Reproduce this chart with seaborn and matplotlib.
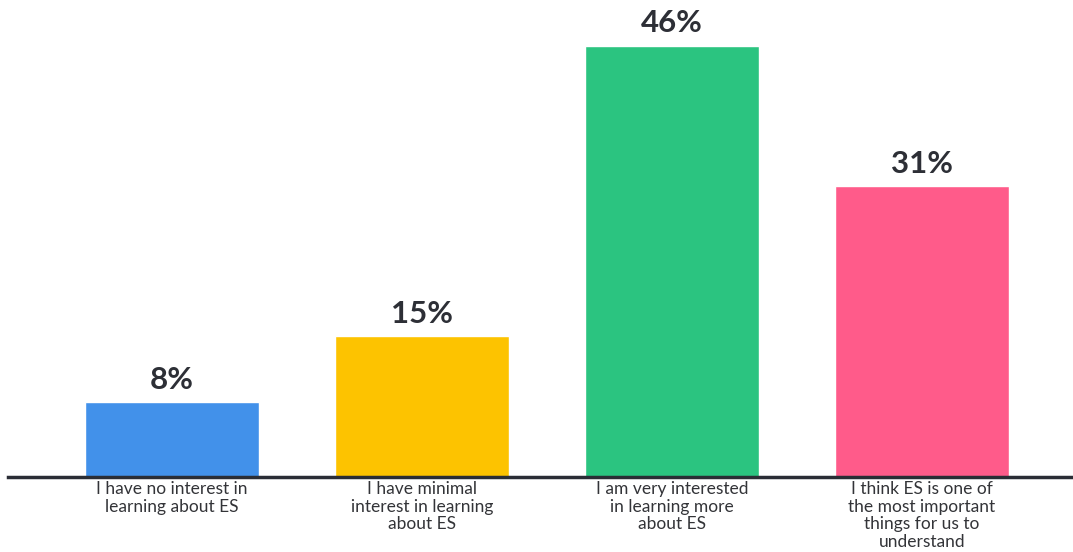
import matplotlib
matplotlib.use("Agg")
import matplotlib.pyplot as plt
import seaborn as sns
import pandas as pd

# survey answers and shares (%)
categories = [
    "I have no interest in\nlearning about ES",
    "I have minimal\ninterest in learning\nabout ES",
    "I am very interested\nin learning more\nabout ES",
    "I think ES is one of\nthe most important\nthings for us to\nunderstand",
]
values = [8, 15, 46, 31]
colors = ["#4291EA", "#FDC300", "#2BC480", "#FF5B8A"]

df = pd.DataFrame({"answer": categories, "share": values})

sns.set_theme(style="white")
plt.rcParams["font.family"] = ["Lato", "DejaVu Sans"]

fig = plt.figure(figsize=(10.73, 5.52), dpi=100)
ax = fig.add_axes([8 / 1073, 75 / 552, 1 - 8 / 1073, 477 / 552])

sns.barplot(data=df, x="answer", y="share", hue="answer",
            palette=colors, legend=False, width=0.696,
            saturation=1, ax=ax)

# value labels above bars
for i, v in enumerate(values):
    ax.text(i, v + 0.9, f"{v}%", ha="center", va="bottom",
            fontsize=22.5, fontweight="bold", color="#2d2f36")

ax.set_xlim(-0.656, 3.604)
ax.set_ylim(0, 50.9)
ax.set_xlabel("")
ax.set_ylabel("")
ax.set_yticks([])
ax.tick_params(axis="x", length=0, pad=3)
ax.set_xticks(range(len(categories)))
ax.set_xticklabels(categories, fontsize=12.5, color="#333438",
                   linespacing=1.12, va="top")

for side in ["top", "right", "left"]:
    ax.spines[side].set_visible(False)
ax.spines["bottom"].set_color("#2a2d35")
ax.spines["bottom"].set_linewidth(2.5)

fig.savefig("out.png", dpi=100)
